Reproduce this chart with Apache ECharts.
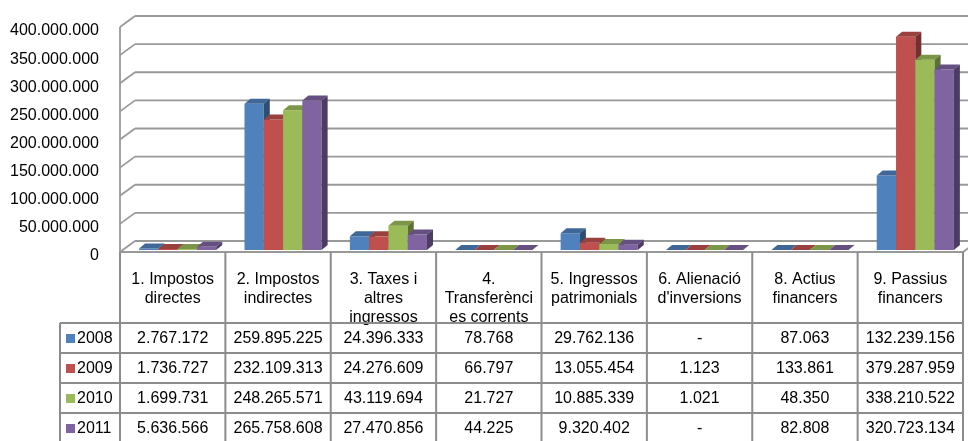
<!DOCTYPE html>
<html>
<head>
<meta charset="utf-8">
<script src="https://cdn.jsdelivr.net/npm/echarts/dist/echarts.min.js"></script>
<style>
  html, body { margin: 0; padding: 0; background: #ffffff; }
  #chart { width: 968px; height: 441px; }
</style>
</head>
<body>
<div id="chart"></div>
<script>
// Income chapters (header row of the data table)
const categories = [
  '1. Impostos\ndirectes',
  '2. Impostos\nindirectes',
  '3. Taxes i\naltres\ningressos',
  '4.\nTransferènci\nes corrents',
  '5. Ingressos\npatrimonials',
  '6. Alienació\nd\'inversions',
  '8. Actius\nfinancers',
  '9. Passius\nfinancers'
];
const years = ['2008', '2009', '2010', '2011'];
const values2008 = [2767172, 259895225, 24396333, 78768, 29762136, null, 87063, 132239156];
const values2009 = [1736727, 232109313, 24276609, 66797, 13055454, 1123, 133861, 379287959];
const values2010 = [1699731, 248265571, 43119694, 21727, 10885339, 1021, 48350, 338210522];
const values2011 = [5636566, 265758608, 27470856, 44225, 9320402, null, 82808, 320723134];
const valueTicks = [0, 50000000, 100000000, 150000000, 200000000, 250000000, 300000000, 350000000, 400000000];

const seriesValues = [values2008, values2009, values2010, values2011];
const colors = ['#4f81bd', '#c0504d', '#9bbb59', '#8064a2'];

// depth of the box (walls/floor) and of each bar
const WALL_DX = 15, WALL_DY = 11;
const BAR_DX = 6, BAR_DY = 5;
const BAR_SHIFT_X = 5, BAR_SHIFT_Y = 2;
const BAR_FRACTION = 0.183;
const GRID_COLOR = '#999999';
const TABLE_COLOR = '#8c8c8c';
const FONT = 'Liberation Sans, Arial, sans-serif';

function fmt(v) {
  if (v === null || v === undefined) return '-';
  return String(v).replace(/\B(?=(\d{3})+(?!\d))/g, '.');
}

function shade(hex, f) {
  const n = parseInt(hex.slice(1), 16);
  const r = Math.round(((n >> 16) & 255) * f);
  const g = Math.round(((n >> 8) & 255) * f);
  const b = Math.round((n & 255) * f);
  return 'rgb(' + r + ',' + g + ',' + b + ')';
}

// back wall gridlines, left wall diagonals and the floor outline
function renderWalls(params, api) {
  const cs = params.coordSys;
  const v = api.value(1);
  const y = api.coord([0, v])[1];
  const x0 = cs.x;
  const x1 = cs.x + cs.width;
  const style = { stroke: GRID_COLOR, lineWidth: 1.8 };
  const children = [
    { type: 'line', shape: { x1: x0, y1: y, x2: x0 + WALL_DX, y2: y - WALL_DY }, style: style },
    { type: 'line', shape: { x1: x0 + WALL_DX, y1: y - WALL_DY, x2: x1 + WALL_DX, y2: y - WALL_DY }, style: style }
  ];
  if (v === valueTicks[0]) {
    const yTop = api.coord([0, valueTicks[valueTicks.length - 1]])[1];
    children.push(
      { type: 'line', shape: { x1: x0, y1: y, x2: x1, y2: y }, style: style },
      { type: 'line', shape: { x1: x1, y1: y, x2: x1 + WALL_DX, y2: y - WALL_DY }, style: style },
      { type: 'line', shape: { x1: x0, y1: yTop, x2: x0, y2: y }, style: style }
    );
  }
  return { type: 'group', children: children };
}

function makeBarRenderer(k) {
  const color = colors[k];
  return function (params, api) {
    const ci = api.value(0);
    const band = api.size([1, 0])[0];
    const w = band * BAR_FRACTION;
    const base = api.coord([ci, 0]);
    const top = api.coord([ci, api.value(1)]);
    const x0 = base[0] - (w * seriesValues.length) / 2 + BAR_SHIFT_X + k * w;
    const yb = base[1] - BAR_SHIFT_Y;
    const yt = top[1] - BAR_SHIFT_Y;
    return {
      type: 'group',
      children: [
        { type: 'rect', shape: { x: x0, y: yt, width: w, height: Math.max(yb - yt, 0) },
          style: { fill: color } },
        { type: 'polygon', shape: { points: [[x0, yt], [x0 + BAR_DX, yt - BAR_DY], [x0 + w + BAR_DX, yt - BAR_DY], [x0 + w, yt]] },
          style: { fill: shade(color, 0.8) } },
        { type: 'polygon', shape: { points: [[x0 + w, yt], [x0 + w + BAR_DX, yt - BAR_DY], [x0 + w + BAR_DX, yb - BAR_DY], [x0 + w, yb]] },
          style: { fill: shade(color, 0.6) } }
      ]
    };
  };
}

const chart = echarts.init(document.getElementById('chart'), null, { renderer: 'canvas' });

const series = [{
  type: 'custom',
  name: 'walls',
  coordinateSystem: 'cartesian2d',
  renderItem: renderWalls,
  data: valueTicks.map(v => [0, v]),
  silent: true,
  clip: false,
  z: 1
}];
years.forEach((yr, k) => {
  series.push({
    type: 'custom',
    name: yr,
    coordinateSystem: 'cartesian2d',
    renderItem: makeBarRenderer(k),
    data: seriesValues[k].map((v, i) => [i, v === null ? 0 : v]),
    clip: false,
    z: 2 + k
  });
});

chart.setOption({
  animation: false,
  backgroundColor: '#ffffff',
  grid: { left: 120, right: 5, top: 27, bottom: 189, containLabel: false, outerBoundsMode: 'none' },
  xAxis: {
    type: 'category',
    data: categories,
    axisLine: { show: false },
    axisTick: { show: false },
    splitLine: { show: false },
    axisLabel: {
      interval: 0,
      margin: 18,
      fontFamily: FONT,
      fontSize: 16,
      lineHeight: 19,
      color: '#000000',
      align: 'center',
      verticalAlign: 'top'
    }
  },
  yAxis: {
    type: 'value',
    min: valueTicks[0],
    max: valueTicks[valueTicks.length - 1],
    interval: valueTicks[1] - valueTicks[0],
    axisLine: { show: false },
    axisTick: { show: false },
    splitLine: { show: false },
    axisLabel: {
      margin: 21,
      color: '#000000',
      formatter: v => '{t|' + fmt(v) + '}',
      rich: {
        t: { fontFamily: FONT, fontSize: 16, color: '#000000', padding: [8, 0, 0, 0] }
      }
    }
  },
  series: series
});

// data table under the plot, aligned to the category bands
(function drawTable() {
  const c0 = chart.convertToPixel({ gridIndex: 0 }, [0, 0]);
  const c1 = chart.convertToPixel({ gridIndex: 0 }, [1, 0]);
  const band = c1[0] - c0[0];
  const floorY = c0[1];
  const colLeft = i => c0[0] - band / 2 + i * band;
  const headerBottom = 323;
  const rowH = 30;
  const legendLeft = 60;
  const n = categories.length;
  const tableRight = colLeft(n);
  const tableBottom = headerBottom + rowH * years.length;
  const lineStyle = { stroke: TABLE_COLOR, lineWidth: 2 };
  const els = [];

  for (let i = 0; i <= n; i++) {
    els.push({ type: 'line', z: 100, shape: { x1: colLeft(i), y1: floorY, x2: colLeft(i), y2: tableBottom }, style: lineStyle });
  }
  els.push({ type: 'line', z: 100, shape: { x1: legendLeft, y1: headerBottom, x2: legendLeft, y2: tableBottom }, style: lineStyle });
  for (let r = 0; r <= years.length; r++) {
    const y = headerBottom + r * rowH;
    els.push({ type: 'line', z: 100, shape: { x1: legendLeft, y1: y, x2: tableRight, y2: y }, style: lineStyle });
  }

  years.forEach((yr, r) => {
    const cy = headerBottom + r * rowH + rowH / 2 + 1;
    els.push({ type: 'rect', z: 101, shape: { x: legendLeft + 6, y: cy - 5, width: 9, height: 9 }, style: { fill: colors[r] } });
    els.push({ type: 'text', z: 101, x: legendLeft + 17, y: cy,
      style: { text: yr, fill: '#000', font: '16px ' + FONT, textAlign: 'left', textVerticalAlign: 'middle' } });
    seriesValues[r].forEach((v, i) => {
      els.push({ type: 'text', z: 101, x: colLeft(i) + band / 2, y: cy,
        style: { text: fmt(v), fill: '#000', font: '16px ' + FONT, textAlign: 'center', textVerticalAlign: 'middle' } });
    });
  });

  chart.setOption({ graphic: { elements: els } });
})();
</script>
</body>
</html>
